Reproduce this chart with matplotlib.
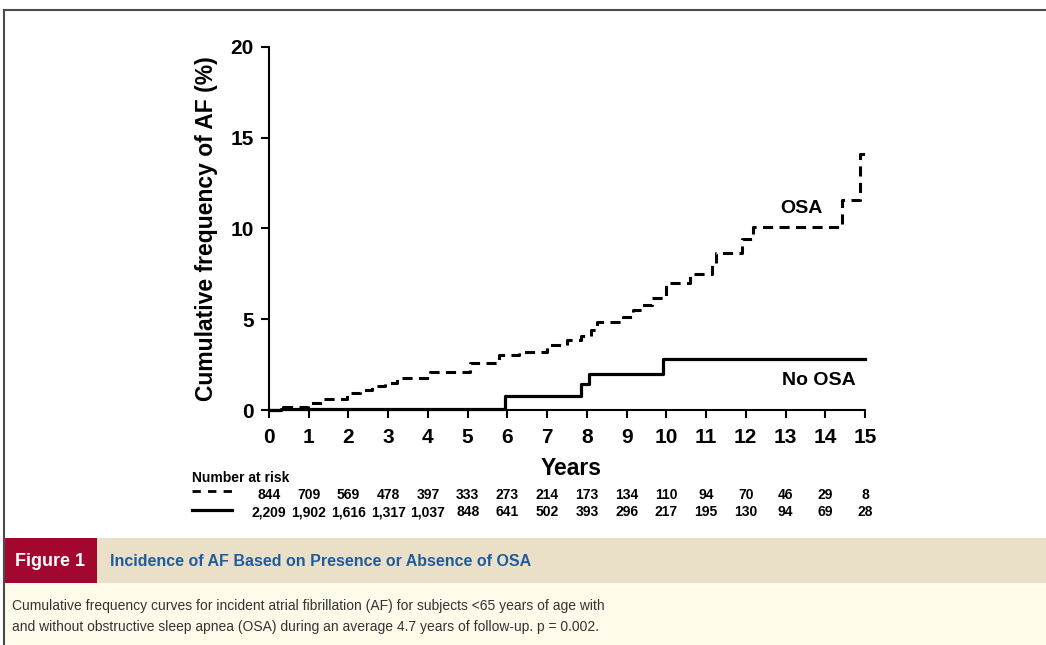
import matplotlib
matplotlib.use("Agg")
import matplotlib.pyplot as plt
import matplotlib.transforms as mtransforms
from matplotlib.patches import Rectangle
from matplotlib.lines import Line2D

# Cumulative AF frequency (%) by follow-up year, step curves
osa_years = [0, 0.36, 0.99, 1.33, 1.96, 2.29, 2.58, 2.92, 3.21, 4.05, 5.06, 5.8,
             6.28, 6.99, 7.5, 7.85, 8.1, 8.25, 8.9, 9.17, 9.4, 9.63, 10.0, 10.6,
             11.15, 11.25, 11.9, 12.18, 14.41, 14.88, 15.0]
osa_pct = [0, 0.18, 0.4, 0.6, 0.95, 1.1, 1.32, 1.47, 1.74, 2.11, 2.57, 3.03,
           3.2, 3.58, 3.85, 4.1, 4.4, 4.85, 5.12, 5.5, 5.8, 6.15, 6.98, 7.5,
           8.1, 8.67, 9.4, 10.1, 11.57, 14.1, 14.1]

no_osa_years = [0, 0.3, 5.95, 7.85, 8.05, 9.92, 15.0]
no_osa_pct = [0, 0.05, 0.77, 1.42, 1.97, 2.8, 2.8]

# Number at risk table
risk_years = list(range(16))
risk_osa = ["844", "709", "569", "478", "397", "333", "273", "214", "173", "134",
            "110", "94", "70", "46", "29", "8"]
risk_no_osa = ["2,209", "1,902", "1,616", "1,317", "1,037", "848", "641", "502",
               "393", "296", "217", "195", "130", "94", "69", "28"]

x_ticks = list(range(16))
y_ticks = [0, 5, 10, 15, 20]

SANS = ["Liberation Sans", "DejaVu Sans"]

W, H = 1046, 645
fig = plt.figure(figsize=(W / 100, H / 100), dpi=100)
fig.patch.set_facecolor("white")


def fx(px):
    return px / W


def fy(py):
    return 1 - py / H


# Caption panel backgrounds and outline
fig.patches.append(Rectangle((fx(4), fy(645)), fx(1046 - 4), (645 - 583) / H,
                             transform=fig.transFigure, facecolor="#FEFBEA",
                             edgecolor="none", zorder=0))
fig.patches.append(Rectangle((fx(97), fy(583)), fx(1046 - 97), (583 - 538) / H,
                             transform=fig.transFigure, facecolor="#EAE0C8",
                             edgecolor="none", zorder=0))
fig.patches.append(Rectangle((fx(4), fy(583)), fx(97 - 4), (583 - 538) / H,
                             transform=fig.transFigure, facecolor="#A3062F",
                             edgecolor="none", zorder=0))
fig.lines.append(Line2D([fx(4), fx(1046)], [fy(10), fy(10)], transform=fig.transFigure,
                        color="#4a4a4a", lw=1.5))
fig.lines.append(Line2D([fx(4), fx(4)], [fy(10), fy(645)], transform=fig.transFigure,
                        color="#4a4a4a", lw=1.5))

fig.text(fx(50), fy(561), "Figure 1", color="white", fontsize=13, fontweight="bold",
         family=SANS, ha="center", va="center")
fig.text(fx(110), fy(561), "Incidence of AF Based on Presence or Absence of OSA",
         color="#1F5C9E", fontsize=11.5, fontweight="bold", family=SANS,
         ha="left", va="center")
fig.text(fx(12), fy(606),
         "Cumulative frequency curves for incident atrial fibrillation (AF) for subjects <65 years of age with",
         color="#333333", fontsize=10, family=SANS, ha="left", va="center")
fig.text(fx(12), fy(627),
         "and without obstructive sleep apnea (OSA) during an average 4.7 years of follow-up. p = 0.002.",
         color="#333333", fontsize=10, family=SANS, ha="left", va="center")

# Main plot
ax = fig.add_axes([fx(269), fy(410), fx(865 - 269), (410 - 47) / H])
ax.set_facecolor("none")

dash = (0, (3.3, 2.1))
ax.step(osa_years, osa_pct, where="post", color="black", lw=2.2, linestyle=dash,
        clip_on=False, zorder=3)
ax.step(no_osa_years, no_osa_pct, where="post", color="black", lw=2.3,
        clip_on=False, zorder=3)

ax.set_xlim(0, 15)
ax.set_ylim(0, 20)
ax.set_xticks(x_ticks)
ax.set_yticks(y_ticks)
for s in ["top", "right"]:
    ax.spines[s].set_visible(False)
for s in ["left", "bottom"]:
    ax.spines[s].set_linewidth(1.5)
ax.tick_params(axis="both", direction="out", length=6, width=1.5, labelsize=15)
ax.tick_params(axis="x", pad=7)
ax.tick_params(axis="y", pad=5)
for lab in ax.get_xticklabels() + ax.get_yticklabels():
    lab.set_fontweight("bold")
    lab.set_family(SANS)

ax.set_ylabel("Cumulative frequency of AF (%)", fontsize=16.5, fontweight="bold",
              family=SANS)
ax.yaxis.set_label_coords(-0.085, 0.5)

ax.text(0.507, -0.1625, "Years", transform=ax.transAxes, fontsize=16.5,
        fontweight="bold", family=SANS, ha="center", va="center")

ax.text(13.4, 11.1, "OSA", fontsize=14, fontweight="bold", family=SANS,
        ha="center", va="center")
ax.text(13.85, 1.65, "No OSA", fontsize=14, fontweight="bold", family=SANS,
        ha="center", va="center")

# Number at risk table under the axis
tr = mtransforms.blended_transform_factory(ax.transData, ax.transAxes)
ax.text(-1.94, -0.187, "Number at risk", transform=tr, fontsize=10,
        fontweight="bold", family=SANS, ha="left", va="center")
ax.plot([-1.94, -0.93], [-0.222, -0.222], transform=tr, color="black", lw=2.0,
        linestyle=(0, (3.0, 2.6)), clip_on=False)
ax.plot([-1.94, -0.93], [-0.275, -0.275], transform=tr, color="black", lw=2.3,
        clip_on=False)

for yr, n_osa, n_no in zip(risk_years, risk_osa, risk_no_osa):
    ax.text(yr, -0.234, n_osa, transform=tr, fontsize=10, fontweight="bold",
            family=SANS, ha="center", va="center")
    ax.text(yr, -0.281, n_no, transform=tr, fontsize=10, fontweight="bold",
            family=SANS, ha="center", va="center")

fig.savefig("out.png", dpi=100)
